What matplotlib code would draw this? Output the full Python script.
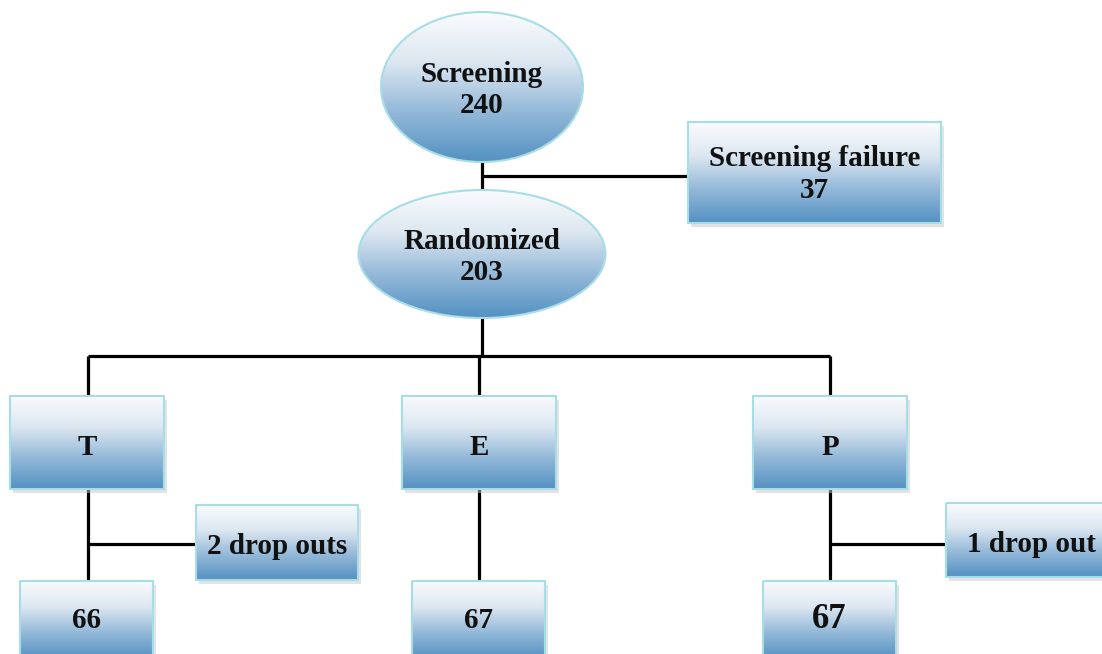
import numpy as np
import matplotlib
matplotlib.use("Agg")
import matplotlib.pyplot as plt
from matplotlib.patches import Rectangle, Ellipse
from matplotlib.colors import LinearSegmentedColormap

# Inhalte des Flussdiagramms
stage_names = ["Screening", "Randomized"]
stage_counts = [240, 203]
failure_label = "Screening failure"
failure_count = 37
arm_names = ["T", "E", "P"]
arm_completed = [66, 67, 67]
arm_dropouts = ["2 drop outs", None, "1 drop out"]

# Layout in Pixeln (Bild 1102x654, y nach unten)
W, H = 1102, 654
fig = plt.figure(figsize=(W / 100, H / 100), dpi=100)
ax = fig.add_axes([0, 0, 1, 1])
ax.set_xlim(0, W)
ax.set_ylim(H, 0)
ax.axis("off")

cmap = LinearSegmentedColormap.from_list(
    "blau", ["#fafbfd", "#dce7f1", "#93b8d8", "#5391c2"])
grad = np.linspace(0, 1, 256).reshape(-1, 1)
edge = "#a6dde6"
font = dict(family="Liberation Serif", weight="bold", color="#111111")
lw = 2.3
fs = 21


def fill_gradient(patch, x0, y0, w, h):
    ax.add_patch(patch)
    im = ax.imshow(grad, cmap=cmap, extent=(x0, x0 + w, y0 + h, y0),
                   origin="upper", aspect="auto", zorder=2)
    im.set_clip_path(patch)


def box(x0, y0, w, h, text, size=fs, dy=4):
    shadow = Rectangle((x0 + 3, y0 + 4), w, h, facecolor="#c8c8c8",
                       edgecolor="none", alpha=0.5, zorder=1)
    ax.add_patch(shadow)
    r = Rectangle((x0, y0), w, h, facecolor="none", edgecolor="none", zorder=2)
    fill_gradient(r, x0, y0, w, h)
    ax.add_patch(Rectangle((x0, y0), w, h, facecolor="none", edgecolor=edge,
                           linewidth=1.5, zorder=3))
    ax.text(x0 + w / 2, y0 + h / 2 + dy, text, ha="center", va="center",
            fontsize=size, zorder=4, linespacing=1.2, **font)


def oval(cx, cy, w, h, text, size=fs):
    e = Ellipse((cx, cy), w, h, facecolor="none", edgecolor="none", zorder=2)
    fill_gradient(e, cx - w / 2, cy - h / 2, w, h)
    ax.add_patch(Ellipse((cx, cy), w, h, facecolor="none", edgecolor=edge,
                         linewidth=1.5, zorder=3))
    ax.text(cx, cy + 3, text, ha="center", va="center", fontsize=size,
            zorder=4, linespacing=1.2, **font)


def line(xs, ys):
    ax.plot(xs, ys, color="black", linewidth=lw, solid_capstyle="butt",
            zorder=0)


# Verbindungslinien
cx = 482
line([cx, cx], [160, 192])
line([cx, 688], [176, 176])
line([cx, cx], [316, 356])
arm_x = [88, 479, 830]
line([arm_x[0], arm_x[2]], [356, 356])
for x in arm_x:
    line([x, x], [356, 397])
    line([x, x], [489, 581])
line([arm_x[0], 196], [544, 544])
line([arm_x[2], 946], [544, 544])

# Knoten
oval(cx, 87, 202, 150, f"{stage_names[0]}\n{stage_counts[0]}")
oval(cx, 254, 247, 128, f"{stage_names[1]}\n{stage_counts[1]}")
box(688, 122, 253, 101, f"{failure_label}\n{failure_count}", dy=2)

arm_left = [10, 402, 753]
for x0, name in zip(arm_left, arm_names):
    box(x0, 396, 154, 93, name, dy=5)

done_left = [20, 412, 763]
done_size = [fs, fs, 25]
for x0, n, s in zip(done_left, arm_completed, done_size):
    box(x0, 581, 133, 78, str(n), size=s, dy=0)

drop_boxes = {0: (196, 505, 162, 75), 2: (946, 503, 170, 74)}
for i, lab in enumerate(arm_dropouts):
    if lab:
        x0, y0, w, h = drop_boxes[i]
        box(x0, y0, w, h, lab)

fig.savefig("out.png", dpi=100, facecolor="white")
